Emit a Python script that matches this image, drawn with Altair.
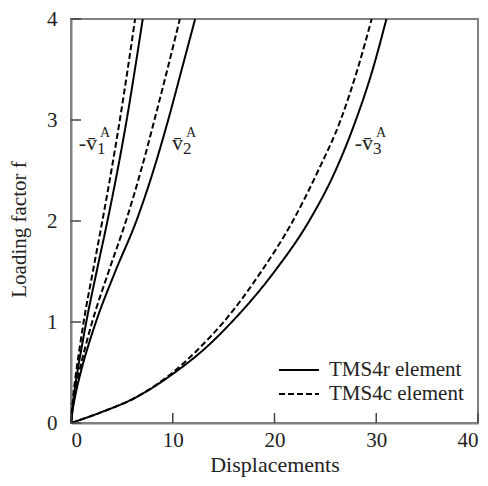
import altair as alt
import pandas as pd

# Loading factor levels (shared by all curves)
f_levels = [0, 0.1, 0.25, 0.5, 0.75, 1, 1.5, 2, 2.5, 3, 3.5, 4]

# Displacements
v1_r = [0, 0.09, 0.26, 0.62, 1.05, 1.50, 2.52, 3.58, 4.57, 5.47, 6.28, 7.05]
v1_c = [0, 0.07, 0.20, 0.50, 0.86, 1.24, 2.15, 3.08, 3.97, 4.80, 5.57, 6.30]
v2_r = [0, 0.12, 0.38, 0.95, 1.65, 2.45, 4.35, 6.42, 8.10, 9.55, 10.88, 12.20]
v2_c = [0, 0.10, 0.32, 0.80, 1.40, 2.08, 3.70, 5.40, 6.88, 8.20, 9.47, 10.70]
v3_r = [0, 2.80, 6.30, 10.20, 13.30, 15.80, 20.00, 23.40, 26.00, 28.00, 29.65, 31.00]
v3_c = [0, 2.80, 6.30, 10.00, 12.70, 15.00, 18.70, 21.80, 24.30, 26.50, 28.15, 29.55]

element_names = ["TMS4r element", "TMS4c element"]
x_ticks = [0, 10, 20, 30, 40]
y_ticks = [0, 1, 2, 3, 4]

# curve labels
lab_x = [2.56, 11.0, 29.68]
lab_f = [2.70, 2.70, 2.70]
lab_main = ["-v\u0304", "v\u0304", "-v\u0304"]
lab_sub = ["1", "2", "3"]
lab_sup = ["A", "A", "A"]

series = [
    ("v1r", element_names[0], v1_r),
    ("v1c", element_names[1], v1_c),
    ("v2r", element_names[0], v2_r),
    ("v2c", element_names[1], v2_c),
    ("v3r", element_names[0], v3_r),
    ("v3c", element_names[1], v3_c),
]
rows = []
for name, el, xs in series:
    for f, x in zip(f_levels, xs):
        rows.append({"curve": name, "element": el, "disp": x, "f": f})
df = pd.DataFrame(rows)

labels = pd.DataFrame({"x": lab_x, "f": lab_f, "main": lab_main,
                       "sub": lab_sub, "sup": lab_sup})

FONT = "Times New Roman, Liberation Serif, DejaVu Serif, serif"
TXT = "#222222"

xscale = alt.Scale(domain=[0, 40], nice=False, zero=False)
yscale = alt.Scale(domain=[0, 4], nice=False, zero=False)

lines = alt.Chart(df).mark_line(color="black", strokeWidth=2, interpolate="monotone").encode(
    x=alt.X("disp:Q", scale=xscale,
            axis=alt.Axis(values=x_ticks, format="d", title="Displacements", grid=False, ticks=False,
                          labelFont=FONT, labelFontSize=21, labelColor=TXT, labelPadding=6,
                          titleFont=FONT, titleFontSize=22, titleFontWeight="normal",
                          titleColor=TXT, titlePadding=4,
                          domainColor="#808080", domainWidth=2)),
    y=alt.Y("f:Q", scale=yscale,
            axis=alt.Axis(values=y_ticks, format="d", title="Loading factor f", grid=False, ticks=False,
                          labelFont=FONT, labelFontSize=21, labelColor=TXT, labelPadding=14,
                          titleFont=FONT, titleFontSize=21, titleFontWeight="normal",
                          titleColor=TXT, titleX=-52, titleY=210, titleBaseline="middle",
                          domainColor="#808080", domainWidth=2)),
    detail="curve:N",
    order="f:Q",
    strokeDash=alt.StrokeDash(
        "element:N",
        scale=alt.Scale(domain=element_names, range=[[1, 0], [6, 3]]),
        legend=alt.Legend(title=None, orient="none", legendX=217, legendY=340,
                          symbolType="M-2,0H2", symbolSize=400, symbolStrokeWidth=2,
                          symbolStrokeColor="black", symbolFillColor="transparent",
                          labelFont=FONT, labelFontSize=21, labelColor=TXT,
                          labelOffset=19, rowPadding=3, padding=0),
    ),
)

xt = alt.Chart(pd.DataFrame({"t": x_ticks})).mark_rule(color="#444444", strokeWidth=1.5).encode(
    x=alt.X("t:Q", scale=xscale), y=alt.value(404), y2=alt.value(394))
yt = alt.Chart(pd.DataFrame({"t": y_ticks})).mark_rule(color="#444444", strokeWidth=1.5).encode(
    y=alt.Y("t:Q", scale=yscale), x=alt.value(0), x2=alt.value(10))

base = alt.Chart(labels).encode(x=alt.X("x:Q", scale=xscale), y=alt.Y("f:Q", scale=yscale))
main_t = base.mark_text(font=FONT, fontSize=22, align="right", baseline="alphabetic", color=TXT).encode(text="main:N")
sub_t = base.mark_text(font=FONT, fontSize=17, align="left", baseline="alphabetic", dy=4, color=TXT).encode(text="sub:N")
sup_t = base.mark_text(font=FONT, fontSize=14, align="left", baseline="alphabetic", dx=3, dy=-13, color=TXT).encode(text="sup:N")

chart = alt.layer(lines, xt, yt, main_t, sub_t, sup_t).properties(
    width=407, height=404,
    autosize=alt.AutoSizeParams(type="none"),
    padding={"left": 63, "top": 11, "right": 2, "bottom": 56},
).configure_view(stroke="#808080", strokeWidth=2)

chart.save("out.html", embed_options={"renderer": "svg", "actions": False})
